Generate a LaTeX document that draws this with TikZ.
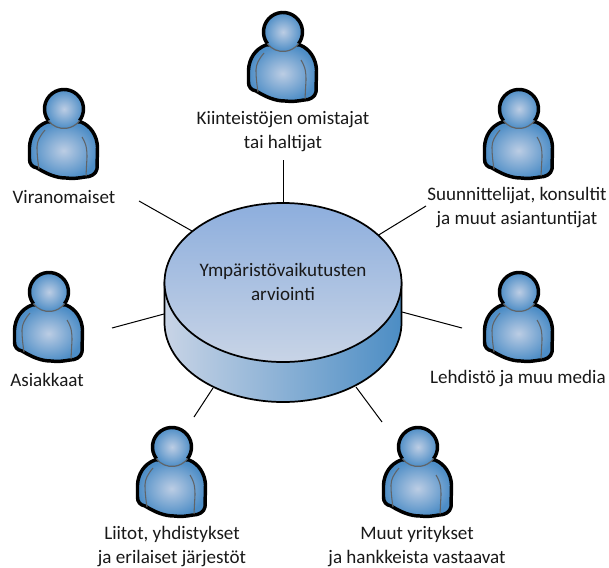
\documentclass[tikz,border=0pt]{standalone}
\usepackage{fontspec}
\setmainfont{Carlito}
\usetikzlibrary{positioning}
\definecolor{diskTop}{HTML}{8DAEDD}
\definecolor{diskPale}{HTML}{C8D4E6}
\definecolor{diskDark}{HTML}{4C8DC4}
\definecolor{bodyBlue}{HTML}{4D8DC6}
\definecolor{bodyPale}{HTML}{BCCDE4}
\definecolor{foldGray}{HTML}{606468}
\tikzset{
 lab/.style={align=center,font=\fontsize{14.3pt}{18pt}\selectfont,text=black!90,inner sep=0pt},
 conn/.style={black,line width=0.75pt},
 pics/person/.style={code={
  \draw[line width=2.6pt,line join=round,shade,shading=radial,inner color=bodyPale,outer color=bodyBlue]
   (-17,13) .. controls (-28,17) and (-34,27) .. (-34.5,38) -- (-34.5,50)
   .. controls (-34.5,55) and (-32,58) .. (-27,59) .. controls (-17,65) and (-8,69) .. (2,69)
   .. controls (9,70) and (15,69) .. (21,68) .. controls (27,68) and (32,65) .. (33,60) -- (33.5,38)
   .. controls (33,27) and (27,17) .. (17,13) -- cycle;
  \draw[foldGray,line width=0.8pt] (-19,21) .. controls (-24,27) and (-27,32) .. (-27,38) .. controls (-27,46) and (-26,54) .. (-25,60);
  \draw[foldGray,line width=0.8pt] (18,28) .. controls (23,36) and (23,42) .. (23,48) -- (22,67);
  \shade[shading=radial,inner color=bodyPale,outer color=bodyBlue] (0,0) circle (19.5);
  \draw[line width=2.6pt] (-15.6,11.7) arc (143:397:19.5);
  \draw[foldGray,line width=0.9pt] (-15.6,11.7) arc (143:37:19.5);
 }}
}
\begin{document}
\begin{tikzpicture}[x=0.75pt,y=-0.75pt]
 \useasboundingbox (0,0) rectangle (609,567);
 % disk
 \coordinate (diskN) at (283,203);
 \coordinate (diskNW) at (192,231);
 \coordinate (diskNE) at (377,236);
 \coordinate (diskW) at (164,314);
 \coordinate (diskE) at (402,312);
 \coordinate (diskSW) at (213,388);
 \coordinate (diskSE) at (356,387);
 \coordinate (endN) at (283,160);
 \coordinate (endNW) at (139,201);
 \coordinate (endNE) at (426,206);
 \coordinate (endW) at (112,328);
 \coordinate (endE) at (462,328);
 \coordinate (endSW) at (194,417);
 \coordinate (endSE) at (382,422);
 \draw[conn] (endN)--(diskN);
 \draw[conn] (endNW)--(diskNW);
 \draw[conn] (endNE)--(diskNE);
 \draw[conn] (endW)--(diskW);
 \draw[conn] (endE)--(diskE);
 \draw[conn] (endSW)--(diskSW);
 \draw[conn] (endSE)--(diskSE);
 \draw[line width=1.3pt,left color=diskPale,right color=diskDark]
  (164.5,282.5) -- (164.5,322.5) arc (180:0:118.5 and 79.5) -- (401.5,282.5) -- cycle;
 \draw[line width=1.3pt,top color=diskTop,bottom color=diskPale] (283,282.5) ellipse (118.5 and 79.5);
 \node[lab] (disklabel) at (283,282) {Ympäristövaikutusten\\arviointi};
 % people
 \pic at (283,32) {person};
 \pic at (64,109) {person};
 \pic at (519,109) {person};
 \pic at (49,292) {person};
 \pic at (519,292) {person};
 \pic at (172,447) {person};
 \pic at (418,447) {person};
 \node[lab] (owners) at (283,132) {Kiinteistöjen omistajat\\tai haltijat};
 \node[lab] (officials) at (64,197) {Viranomaiset};
 \node[lab] (designers) at (517,208) {Suunnittelijat, konsultit\\ja muut asiantuntijat};
 \node[lab] (clients) at (47,380) {Asiakkaat};
 \node[lab] (press) at (518,379) {Lehdistö ja muu media};
 \node[lab] (unions) at (172,547) {Liitot, yhdistykset\\ja erilaiset järjestöt};
 \node[lab] (firms) at (417,547) {Muut yritykset\\ja hankkeista vastaavat};
\end{tikzpicture}
\end{document}
